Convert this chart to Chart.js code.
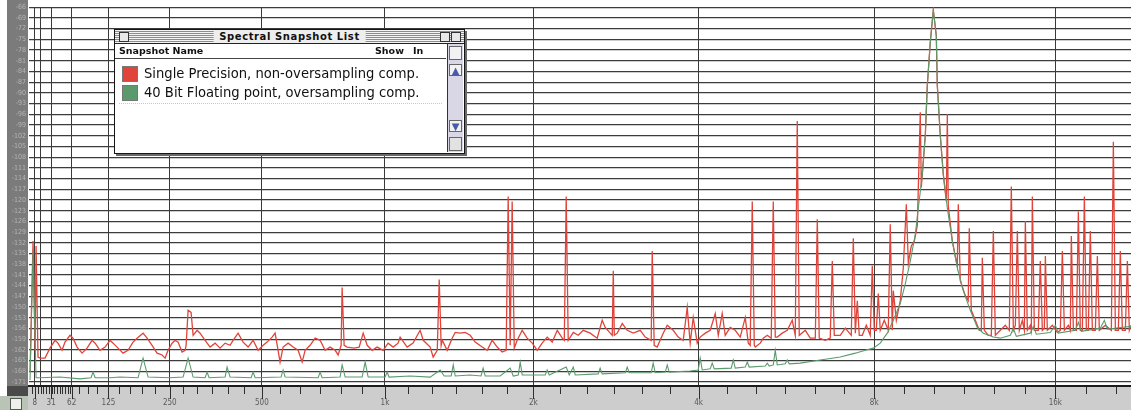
<!DOCTYPE html>
<html>
<head>
<meta charset="utf-8">
<title>Spectral Snapshot</title>
<script src="https://cdn.jsdelivr.net/npm/chart.js@4/dist/chart.umd.min.js"></script>
<style>
  html, body { margin: 0; padding: 0; background: #ffffff; }
  #stage { position: relative; width: 1131px; height: 410px; overflow: hidden; }
  #spectrum { display: block; }
  .win { position: absolute; left: 114px; top: 29px; width: 349px; height: 123px;
         border: 1px solid #151515; background: #ffffff; box-shadow: 2px 2px 0 #6a6a6a;
         font-family: "DejaVu Sans", sans-serif; color: #111; }
  .win .bar { position: absolute; left: 0; top: 0; right: 0; height: 13px;
              background: repeating-linear-gradient(#f4f4f4 0 1px, #8d8d8d 1px 2px);
              border-bottom: 1px solid #222; }
  .win .title { position: absolute; left: 50%; top: 0; transform: translateX(-50%);
                padding: 0 6px; background: #eeeeee; font: bold 10px "DejaVu Sans", sans-serif;
                line-height: 13px; letter-spacing: 0.6px; white-space: nowrap; }
  .win .box { position: absolute; top: 2px; width: 8px; height: 8px; border: 1px solid #333; background: #e8e8e8; }
  .win .head { position: absolute; left: 0; top: 14px; right: 18px; height: 14px;
               border-bottom: 1px solid #444; font: bold 9.5px "DejaVu Sans", sans-serif; line-height: 14px; }
  .win .head span { position: absolute; white-space: nowrap; }
  .win .row { position: absolute; left: 7px; height: 18px; white-space: nowrap;
              font: 14.6px "DejaVu Sans Condensed", "DejaVu Sans", sans-serif; line-height: 18px; }
  .win .sw { position: absolute; left: 0; top: 1px; width: 14px; height: 14px; border: 1px solid #777; }
  .win .lbl { position: absolute; left: 22px; top: -1px; }
  .win .dash { position: absolute; left: 4px; right: 22px; top: 73px; border-top: 1px dotted #c8c8c8; }
  .win .scroll { position: absolute; right: 1px; top: 14px; width: 15px; bottom: 1px;
                 border-left: 1px solid #333; background: #d9d6e6; }
  .win .scroll div { position: absolute; left: 1px; width: 13px; background: #f2f2f2; border: 1px solid #666; box-sizing: border-box; }
  .win .arrow { font: bold 10px "DejaVu Sans", sans-serif; color: #4a5aa8; text-align: center; line-height: 11px; }
</style>
</head>
<body>
<div id="stage">
  <canvas id="spectrum" width="1131" height="410"></canvas>
  <div class="win" id="snapshots">
    <div class="bar">
      <div class="box" style="left:4px"></div>
      <div class="title">Spectral Snapshot List</div>
      <div class="box" style="right:14px"></div>
      <div class="box" style="right:3px"></div>
    </div>
    <div class="head"><span style="left:4px">Snapshot Name</span><span style="left:260px">Show</span><span style="left:298px">In</span></div>
    <div id="rows"></div>
    <div class="dash"></div>
    <div class="scroll">
      <div style="top:2px;height:14px"></div>
      <div class="arrow" style="top:20px;height:12px">&#9650;</div>
      <div class="arrow" style="top:76px;height:12px">&#9660;</div>
      <div style="top:93px;height:14px;background:#e2e2e2"></div>
    </div>
  </div>
</div>
<script>
// Frequency (Hz) and level (dB) of each trace vertex.
const RED_TRACE = [
  [1.4,-168.2],[5.5,-131.5],[8.3,-162.1],[9.7,-132.9],[12.4,-164.0],[15.2,-164.3],[22.3,-164.3],[29.5,-161.5],
  [37.0,-159.3],[41.4,-160.1],[47.5,-162.1],[52.1,-159.8],[59.9,-157.9],[64.7,-158.7],[71.2,-161.2],[79.3,-162.9],
  [87.6,-161.5],[96.1,-159.3],[101.3,-160.1],[109.9,-162.1],[118.9,-161.2],[127.8,-159.3],[133.4,-160.1],[142.7,-161.5],
  [152.2,-162.9],[161.8,-162.1],[171.7,-159.8],[179.8,-158.7],[192.0,-157.3],[200.4,-158.7],[210.9,-160.7],[221.7,-162.9],
  [232.7,-163.4],[239.4,-164.3],[246.1,-162.1],[255.2,-160.1],[262.2,-159.3],[269.2,-159.8],[278.6,-162.6],[285.9,-162.1],
  [288.3,-160.7],[293.2,-150.9],[300.5,-151.5],[305.5,-157.9],[315.5,-156.5],[323.0,-157.3],[336.0,-159.3],[349.0,-161.2],
  [362.5,-160.1],[375.9,-161.5],[389.9,-160.1],[403.9,-160.7],[412.6,-159.3],[427.1,-157.3],[442.0,-159.8],[457.1,-161.2],
  [472.5,-159.3],[488.1,-162.1],[504.1,-160.7],[517.1,-159.8],[533.5,-158.4],[543.6,-157.3],[553.7,-162.1],[560.4,-165.4],
  [570.9,-161.2],[588.4,-160.1],[606.3,-161.2],[624.4,-162.1],[639.2,-165.4],[650.5,-162.1],[669.3,-160.7],[688.9,-158.7],
  [708.4,-159.3],[728.7,-162.1],[748.9,-161.2],[770.0,-162.1],[782.6,-163.4],[795.4,-160.7],[799.7,-144.5],[808.4,-160.7],
  [821.5,-161.2],[852.8,-161.5],[875.5,-161.2],[894.1,-157.3],[912.9,-160.7],[936.7,-162.1],[961.1,-161.2],[991.0,-162.1],
  [1016,-160.1],[1042,-161.2],[1068,-160.1],[1079,-158.4],[1117,-161.2],[1150,-160.1],[1190,-156.5],[1208,-159.3],
  [1249,-161.2],[1267,-164.0],[1292,-162.1],[1304,-142.3],[1316,-160.7],[1323,-159.3],[1354,-162.1],[1386,-158.7],
  [1406,-157.1],[1439,-157.3],[1473,-157.1],[1507,-157.9],[1542,-159.8],[1592,-161.2],[1629,-162.1],[1666,-159.3],
  [1704,-161.2],[1743,-162.6],[1774,-162.1],[1790,-119.0],[1806,-160.7],[1822,-120.4],[1839,-161.5],[1863,-159.3],
  [1905,-156.5],[1947,-158.7],[1991,-160.1],[2035,-162.1],[2079,-160.1],[2125,-158.4],[2172,-159.8],[2220,-156.5],
  [2268,-158.7],[2288,-159.3],[2307,-119.0],[2327,-159.3],[2378,-157.1],[2429,-157.9],[2481,-156.5],[2555,-157.3],
  [2632,-158.7],[2688,-153.7],[2723,-155.7],[2780,-157.3],[2804,-157.9],[2816,-139.8],[2828,-157.9],[2863,-157.3],
  [2924,-154.6],[2985,-156.5],[3060,-157.3],[3150,-156.5],[3216,-158.4],[3296,-159.3],[3310,-134.3],[3337,-160.7],
  [3378,-161.2],[3463,-157.3],[3520,-155.1],[3607,-156.5],[3681,-158.4],[3757,-159.3],[3819,-150.1],[3865,-160.1],
  [3913,-152.9],[3977,-160.1],[4025,-158.4],[4108,-157.3],[4191,-156.5],[4277,-151.8],[4329,-157.9],[4398,-151.8],
  [4452,-157.9],[4541,-155.7],[4634,-156.5],[4727,-158.4],[4823,-152.9],[4881,-160.1],[4919,-160.7],[4959,-120.4],
  [4999,-160.7],[5019,-161.2],[5119,-160.1],[5181,-158.7],[5264,-157.9],[5347,-158.7],[5390,-120.4],[5433,-158.4],
  [5475,-158.4],[5585,-157.3],[5696,-156.5],[5809,-153.7],[5879,-157.9],[5925,-97.9],[5972,-157.9],[6115,-156.5],
  [6235,-158.7],[6360,-158.7],[6410,-125.4],[6459,-158.7],[6614,-159.3],[6743,-158.7],[6797,-137.1],[6850,-157.9],
  [7011,-157.9],[7151,-155.9],[7319,-157.9],[7377,-130.7],[7435,-157.3],[7493,-148.2],[7550,-157.9],[7639,-157.9],
  [7759,-155.1],[7879,-157.9],[7941,-138.4],[8003,-156.5],[8066,-156.5],[8128,-146.2],[8190,-156.5],[8319,-153.7],
  [8448,-156.5],[8513,-126.8],[8580,-156.5],[8614,-145.4],[8715,-153.7],[8849,-148.2],[8953,-139.0],[9058,-121.2],
  [9127,-137.6],[9233,-132.9],[9341,-131.5],[9450,-127.1],[9558,-95.4],[9595,-116.5],[9632,-112.9],[9745,-101.8],
  [9820,-87.9],[9932,-75.9],[10049,-66.8],[10165,-74.0],[10204,-87.9],[10321,-101.8],[10442,-112.9],[10563,-120.4],
  [10604,-95.9],[10644,-121.8],[10809,-131.5],[10934,-135.7],[11017,-138.4],[11059,-121.2],[11143,-142.6],[11360,-146.8],
  [11488,-148.2],[11533,-127.9],[11623,-150.9],[11803,-153.7],[11984,-156.5],[12076,-156.5],[12123,-136.2],[12216,-156.5],
  [12403,-157.9],[12546,-157.9],[12643,-128.7],[12740,-157.9],[12983,-156.5],[13235,-155.1],[13437,-156.5],[13539,-116.2],
  [13644,-156.5],[13749,-155.1],[13854,-128.7],[13958,-156.5],[14119,-153.7],[14227,-156.5],[14281,-125.9],[14390,-156.5],
  [14553,-155.1],[14609,-156.5],[14666,-119.0],[14778,-156.5],[15003,-156.5],[15116,-137.1],[15233,-156.5],[15350,-155.9],
  [15409,-135.7],[15525,-156.5],[15822,-155.1],[16126,-157.1],[16308,-156.5],[16434,-134.3],[16560,-156.5],[16812,-155.1],
  [16938,-156.5],[17003,-130.1],[17134,-156.5],[17330,-156.5],[17460,-123.2],[17591,-156.5],[17726,-156.5],[17862,-119.0],
  [17997,-156.5],[18133,-156.5],[18268,-128.7],[18409,-156.5],[18620,-156.5],[18761,-135.7],[18902,-156.5],[19337,-155.1],
  [19778,-156.5],[19929,-103.7],[20081,-156.5],[20308,-156.5],[20460,-134.3],[20617,-156.5],[20853,-156.5],[21011,-137.1],
  [21167,-156.5],[21300,-155.1]
];

const GREEN_TRACE = [
  [1.4,-170.4],[5.5,-134.3],[9.7,-169.8],[15.2,-169.8],[44.4,-169.6],[76.0,-170.1],[94.3,-169.8],[97.8,-168.2],
  [101.3,-169.8],[127.8,-169.8],[146.4,-169.6],[181.8,-169.8],[192.0,-164.3],[202.5,-169.6],[250.6,-169.8],[281.1,-169.6],
  [293.2,-164.3],[305.5,-169.6],[336.0,-169.8],[341.2,-168.2],[346.4,-169.8],[389.9,-169.6],[395.5,-166.8],[403.9,-169.6],
  [466.2,-169.8],[472.5,-168.2],[478.8,-169.8],[563.9,-169.6],[570.9,-167.6],[577.9,-169.6],[700.6,-169.8],[708.4,-168.2],
  [716.5,-169.8],[791.0,-169.6],[799.7,-166.2],[812.9,-169.6],[889.4,-169.6],[903.5,-165.4],[917.6,-169.6],[1001,-169.6],
  [1011,-168.2],[1021,-169.6],[1133,-169.3],[1249,-169.6],[1310,-167.6],[1335,-169.3],[1380,-169.3],[1393,-166.2],
  [1406,-169.3],[1507,-169.0],[1584,-169.3],[1599,-167.1],[1614,-169.3],[1727,-169.3],[1806,-167.1],[1831,-169.3],
  [1872,-169.0],[1888,-165.4],[1905,-169.0],[2107,-169.0],[2125,-167.6],[2144,-169.0],[2307,-166.8],[2337,-169.0],
  [2378,-166.8],[2398,-169.0],[2643,-168.7],[2665,-167.1],[2688,-168.7],[2961,-168.4],[2985,-166.8],[3010,-168.4],
  [3296,-168.4],[3323,-165.7],[3351,-168.4],[3492,-168.2],[3520,-166.2],[3549,-168.2],[3865,-167.9],[3993,-167.6],
  [4025,-164.3],[4058,-167.6],[4191,-167.3],[4225,-165.7],[4260,-167.3],[4560,-167.1],[4597,-164.8],[4634,-167.1],
  [4823,-166.8],[4861,-165.4],[4900,-166.8],[5222,-166.5],[5264,-165.7],[5305,-166.5],[5390,-166.2],[5433,-162.1],
  [5475,-166.2],[5652,-165.9],[5696,-164.8],[5741,-165.9],[5995,-165.7],[6484,-164.8],[7011,-164.0],[7435,-162.9],
  [7729,-162.1],[7972,-161.5],[8190,-160.1],[8416,-157.3],[8614,-153.7],[8849,-149.0],[9023,-143.4],[9197,-137.1],
  [9377,-129.6],[9486,-122.3],[9632,-112.9],[9745,-101.8],[9820,-87.9],[9932,-75.9],[10049,-66.8],[10165,-74.0],
  [10204,-87.9],[10321,-101.8],[10442,-112.9],[10604,-122.3],[10809,-131.5],[11017,-139.0],[11273,-145.4],[11578,-150.9],
  [11893,-155.7],[12169,-157.3],[12643,-158.4],[12983,-158.7],[13487,-157.9],[13644,-156.0],[13801,-158.2],[14553,-157.3],
  [14722,-155.4],[14891,-157.6],[15701,-157.1],[16005,-155.1],[16187,-157.3],[17265,-156.5],[17460,-154.3],[17659,-156.8],
  [18972,-155.9],[19261,-153.7],[19483,-156.2],[20460,-155.7],[21300,-155.4]
];

const SERIES_NAMES = ['Single Precision, non-oversampling comp.', '40 Bit Floating point, oversampling comp.'];

// Frequency axis: labelled gridlines and their captions.
const FREQ_GRID = [8, 16, 31.25, 62.5, 125, 250, 500, 1000, 2000, 4000, 8000, 16000];
const FREQ_LABELS = ['8', '', '31', '62', '125', '250', '500', '1k', '2k', '4k', '8k', '16k'];

// Level axis (dB), one gridline per 3 dB.
const DB_TICKS = [-66,-69,-72,-75,-78,-81,-84,-87,-90,-93,-96,-99,-102,-105,-108,-111,-114,-117,
                  -120,-123,-126,-129,-132,-135,-138,-141,-144,-147,-150,-153,-156,-159,-162,-165,-168,-171];

// Analyzer frequency axis: close to linear at the bottom end, logarithmic above the knee.
const KNEE_HZ = 365;
const warp = f => Math.log2(1 + Math.max(f, 0) / KNEE_HZ);

class WarpScale extends Chart.LinearScale {
  getPixelForValue(value) {
    const a = warp(this.min), b = warp(this.max);
    return this.getPixelForDecimal((warp(value) - a) / (b - a));
  }
  getValueForPixel(pixel) {
    const a = warp(this.min), b = warp(this.max);
    const t = a + this.getDecimalForPixel(pixel) * (b - a);
    return KNEE_HZ * (Math.pow(2, t) - 1);
  }
}
WarpScale.id = 'warp';
WarpScale.defaults = Object.assign({}, Chart.LinearScale.defaults);
Chart.register(WarpScale);

// Ruler ticks between the labelled lines: finer divisions per octave higher up.
function rulerTicks() {
  const out = [];
  for (let f = 4; f < 62.5; f += 4) if (!FREQ_GRID.includes(f)) out.push(f);
  for (let i = 3; i < FREQ_GRID.length; i++) {
    const f0 = FREQ_GRID[i];
    const n = f0 < 100 ? 4 : f0 < 200 ? 5 : 6;
    for (let k = 1; k < n; k++) {
      const f = f0 * Math.pow(2, k / n);
      if (f < 21300) out.push(f);
    }
  }
  return out;
}
const MINOR_TICKS = rulerTicks();
const labelFor = v => { const i = FREQ_GRID.indexOf(v); return i >= 0 ? FREQ_LABELS[i] : ''; };

const RULER_H = 24;
const chrome = {
  id: 'chrome',
  beforeDraw(chart) {
    const { ctx, chartArea: a, width, height } = chart;
    ctx.save();
    ctx.fillStyle = '#ffffff';
    ctx.fillRect(0, 0, width, height);
    // level ruler strip
    ctx.fillStyle = '#7b7b7b';
    ctx.fillRect(7, 0, a.left - 8, a.bottom);
    // frequency ruler strip
    ctx.fillStyle = '#cdcdcd';
    ctx.fillRect(a.left - 1, a.bottom, width - a.left + 1, height - a.bottom);
    ctx.fillStyle = '#4a4a4a';
    ctx.fillRect(7, a.bottom, a.left - 8, 10);
    ctx.fillStyle = '#b9c4b6';
    ctx.fillRect(0, a.bottom + 10, a.left - 1, height - a.bottom - 10);
    ctx.restore();
  },
  afterDraw(chart) {
    const { ctx, chartArea: a, width, height } = chart;
    const xs = chart.scales.x;
    ctx.save();
    ctx.fillStyle = '#1c1c1c';
    ctx.fillRect(a.left - 1, a.bottom - 1, width - a.left + 1, 2);
    ctx.strokeStyle = '#2e2e2e';
    ctx.lineWidth = 1;
    xs.ticks.forEach(t => {
      const x = Math.round(xs.getPixelForValue(t.value)) + 0.5;
      const major = labelFor(t.value) !== '';
      ctx.beginPath();
      ctx.moveTo(x, a.bottom + 1);
      ctx.lineTo(x, a.bottom + (major ? 13 : 8));
      ctx.stroke();
    });
    // small info badge in the corner
    ctx.fillStyle = '#eef0ea';
    ctx.strokeStyle = '#555';
    ctx.fillRect(10, a.bottom + 12, 11, 11);
    ctx.strokeRect(10.5, a.bottom + 12.5, 11, 11);
    ctx.restore();
  }
};

const toPoints = trace => trace.map(([f, db]) => ({ x: f, y: db }));

const chart = new Chart(document.getElementById('spectrum'), {
  type: 'line',
  data: {
    datasets: [
      { label: SERIES_NAMES[0], data: toPoints(RED_TRACE), borderColor: '#e0443a', borderWidth: 1.3, order: 2 },
      { label: SERIES_NAMES[1], data: toPoints(GREEN_TRACE), borderColor: '#5b9a6c', borderWidth: 1.1, order: 1 }
    ]
  },
  options: {
    responsive: false,
    animation: false,
    devicePixelRatio: 1,
    layout: { padding: { top: 4, right: 0, bottom: 0, left: 0 } },
    elements: { point: { radius: 0 }, line: { tension: 0 } },
    plugins: { legend: { display: false }, tooltip: { enabled: false } },
    scales: {
      x: {
        type: 'warp',
        min: 0,
        max: 21300,
        afterBuildTicks(scale) {
          scale.ticks = FREQ_GRID.concat(MINOR_TICKS).sort((p, q) => p - q).map(v => ({ value: v }));
        },
        afterFit(scale) { scale.height = RULER_H; },
        ticks: {
          autoSkip: false, maxRotation: 0, minRotation: 0, padding: 12,
          color: '#5a5a5a', font: { family: 'DejaVu Sans Condensed', size: 8 },
          callback: v => labelFor(v)
        },
        grid: {
          drawTicks: false,
          color: ctx => (ctx.tick && FREQ_GRID.includes(ctx.tick.value)) ? '#3a3a3a' : 'rgba(0,0,0,0)',
          lineWidth: 1
        },
        border: { display: false }
      },
      y: {
        min: -172.1,
        max: -66,
        afterBuildTicks(scale) { scale.ticks = DB_TICKS.map(v => ({ value: v })); },
        afterFit(scale) { scale.width = 29; },
        ticks: { autoSkip: false, padding: 3, color: '#b4b4b4', font: { family: 'DejaVu Sans Condensed', size: 7 } },
        grid: { drawTicks: false, color: '#3c3c3c', lineWidth: 1.2 },
        border: { display: false }
      }
    }
  },
  plugins: [chrome]
});

// Snapshot list rows, one per dataset.
const rows = document.getElementById('rows');
chart.data.datasets.forEach((ds, i) => {
  const row = document.createElement('div');
  row.className = 'row';
  row.style.top = (35 + i * 19) + 'px';
  const sw = document.createElement('span');
  sw.className = 'sw';
  sw.style.background = ds.borderColor;
  const lbl = document.createElement('span');
  lbl.className = 'lbl';
  lbl.textContent = ds.label;
  row.appendChild(sw);
  row.appendChild(lbl);
  rows.appendChild(row);
});
</script>
</body>
</html>
